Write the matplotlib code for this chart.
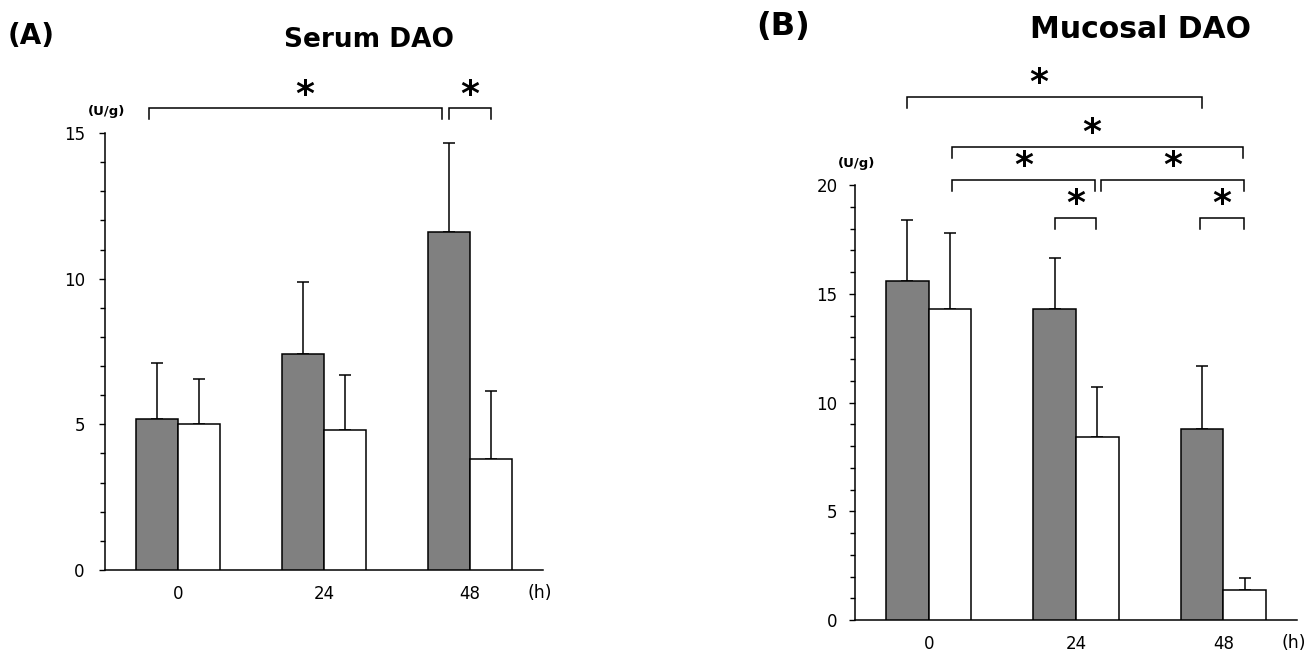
import matplotlib
matplotlib.use('Agg')
import matplotlib.pyplot as plt
from matplotlib.ticker import MultipleLocator

# time points (h)
hours = ['0', '24', '48']

# (A) serum DAO (U/g)
serum_gray = [5.2, 7.4, 11.6]
serum_gray_sd = [1.9, 2.5, 3.05]
serum_white = [5.0, 4.8, 3.8]
serum_white_sd = [1.55, 1.9, 2.35]

# (B) mucosal DAO (U/g)
muc_gray = [15.6, 14.3, 8.8]
muc_gray_sd = [2.8, 2.35, 2.9]
muc_white = [14.3, 8.4, 1.4]
muc_white_sd = [3.5, 2.3, 0.55]

# significance brackets: (group, series) -> (group, series), height
serum_sig = [((0, 0), (2, 0), 15.85), ((2, 0), (2, 1), 15.85)]
muc_sig = [((0, 0), (2, 0), 24.05),
           ((0, 1), (2, 1), 21.75),
           ((0, 1), (1, 1), 20.25),
           ((1, 1), (2, 1), 20.25),
           ((1, 0), (1, 1), 18.5),
           ((2, 0), (2, 1), 18.5)]

W = 0.29
GRAY = '#808080'


def bar_x(g, s):
    return g - W/2 if s == 0 else g + W/2


def draw_panel(ax, gray, gray_sd, white, white_sd, ymax, ypad):
    x = range(len(hours))
    xg = [i - W/2 for i in x]
    xw = [i + W/2 for i in x]
    ax.bar(xg, gray, W, color=GRAY, edgecolor='black', lw=1.1, zorder=3)
    ax.bar(xw, white, W, color='white', edgecolor='black', lw=1.1, zorder=3)
    ax.errorbar(xg, gray, yerr=[[0]*3, gray_sd], fmt='none', ecolor='black',
                elinewidth=1.1, capsize=4.5, capthick=1.1, zorder=2)
    ax.errorbar(xw, white, yerr=[[0]*3, white_sd], fmt='none', ecolor='black',
                elinewidth=1.1, capsize=4.5, capthick=1.1, zorder=2)
    ax.set_xlim(-0.5, 2.5)
    ax.set_ylim(0, ymax)
    for s in ['top', 'right']:
        ax.spines[s].set_visible(False)
    for s in ['left', 'bottom']:
        ax.spines[s].set_linewidth(1.1)
    ax.set_xticks(list(x))
    ax.set_xticklabels(hours, fontsize=12)
    ax.tick_params(axis='x', length=0, pad=11)
    ax.yaxis.set_major_locator(MultipleLocator(5))
    ax.yaxis.set_minor_locator(MultipleLocator(1))
    ax.tick_params(axis='y', which='major', length=4.5, width=1.0,
                   labelsize=12, pad=ypad)
    ax.tick_params(axis='y', which='minor', length=3.5, width=1.0)
    # unit label above the y axis, axis label at the end of the x axis
    ax.annotate('(U/g)', xy=(-0.5, ymax), xytext=(1, 15.5), textcoords='offset points',
                ha='center', va='center', fontsize=9.5, fontweight='bold',
                annotation_clip=False)
    ax.annotate('(h)', xy=(2.5, 0), xytext=(-2, -16.5), textcoords='offset points',
                ha='center', va='center', fontsize=12.5, annotation_clip=False)


def draw_brackets(ax, sig, nudges, star_dx):
    ymin, ymax = ax.get_ylim()
    per_px = (ymax - ymin) / ax.get_window_extent().height
    leg = 11 * per_px
    for (a, b, h), (dl, dr), sdx in zip(sig, nudges, star_dx):
        x1 = bar_x(*a) + dl
        x2 = bar_x(*b) + dr
        ax.plot([x1, x1, x2, x2], [h - leg, h, h, h - leg], color='black',
                lw=1.1, clip_on=False, solid_joinstyle='miter')
        ax.text((x1 + x2)/2 + sdx, h + 13.5*per_px, '*', ha='center', va='center',
                fontsize=26, fontweight='bold', clip_on=False)


fig = plt.figure(figsize=(13.13, 6.55), dpi=100)
axA = fig.add_axes([105/1313, 85/655, 438/1313, 437/655])
axB = fig.add_axes([855/1313, 35/655, 442/1313, 435/655])

draw_panel(axA, serum_gray, serum_gray_sd, serum_white, serum_white_sd, 15, 10)
draw_panel(axB, muc_gray, muc_gray_sd, muc_white, muc_white_sd, 20, 8)

draw_brackets(axA, serum_sig, [(-0.055, -0.045), (0, 0)], [0.06, 0])
draw_brackets(axB, muc_sig,
              [(0, 0), (0.01, -0.01), (0.01, -0.015), (0.025, -0.005), (0, -0.01), (-0.01, -0.005)],
              [-0.11, -0.04, 0, 0, 0, 0])

fig.text(31/1313, 1 - 36/655, '(A)', ha='center', va='center', fontsize=20, fontweight='bold')
fig.text(369/1313, 1 - 40/655, 'Serum DAO', ha='center', va='center', fontsize=19, fontweight='bold')
fig.text(783/1313, 1 - 27/655, '(B)', ha='center', va='center', fontsize=23, fontweight='bold')
fig.text(1140/1313, 1 - 29/655, 'Mucosal DAO', ha='center', va='center', fontsize=21.5, fontweight='bold')

fig.savefig('out.png', dpi=100)
